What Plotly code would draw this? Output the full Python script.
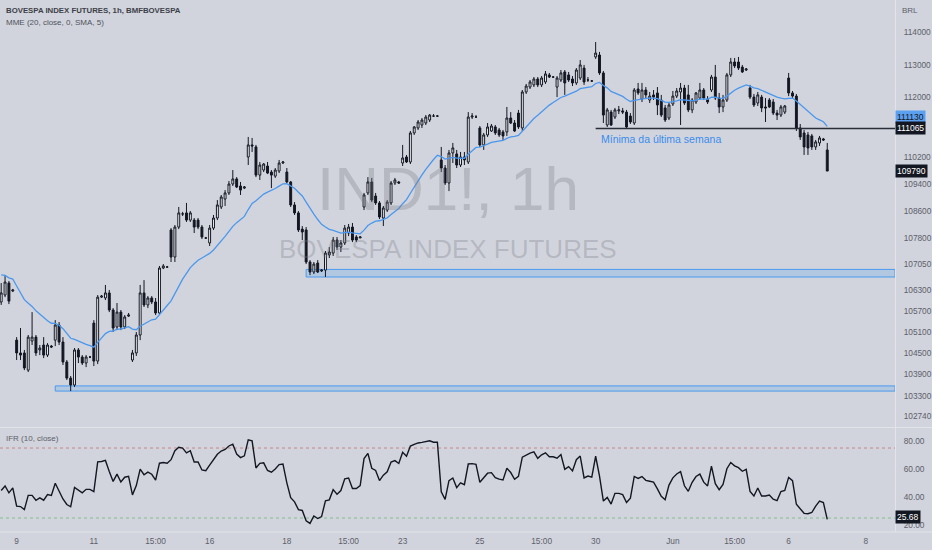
import math
import plotly.graph_objects as go

# ---------------- data ----------------
session_days = ["2022-05-06", "2022-05-09", "2022-05-10", "2022-05-11", "2022-05-12", "2022-05-13",
                "2022-05-16", "2022-05-17", "2022-05-18", "2022-05-19", "2022-05-20",
                "2022-05-23", "2022-05-24", "2022-05-25", "2022-05-26", "2022-05-27",
                "2022-05-30", "2022-05-31", "2022-06-01", "2022-06-02", "2022-06-03",
                "2022-06-06", "2022-06-07", "2022-06-08"]
session_hours = [9, 10, 11, 12, 13, 14, 15, 16, 17, 18]
first_bar = "2022-05-06 15:00"

opens = [
    105960, 106160, 106505, 106275,                                               # May 6
    104870, 104505, 104505, 104020, 104845, 104955, 104590, 104730, 104445, 104700,  # May 9
    104870, 105300, 104815, 104250, 103795, 103600, 104590, 104390, 104220, 104390,  # May 10
    105355, 104275, 106100, 106075, 106220, 105730, 105245, 105670, 105245, 105555,  # May 11
    104305, 104505, 105015, 106220, 105875, 106075, 105960, 105645, 106940, 106970,  # May 12
    108050, 107260, 108135, 108520, 108550, 108340, 108340, 108340, 108135, 107815,  # May 13
    107670, 108105, 108400, 108725, 108960, 109140, 109405, 109555, 109345, 109285,  # May 16
    110210, 110570, 110510, 109670, 109820, 109940, 109760, 109640, 109790, 110030,  # May 17
    109760, 109465, 108785, 108550, 108075, 108050, 107115, 106825, 107085, 106855,  # May 18
    106880, 107320, 107375, 107755, 107550, 107670, 107960, 108135, 107845, 107815,  # May 19
    108725, 109140, 109465, 109050, 108845, 108400, 108635, 108845, 109435, 109465,  # May 20
    110030, 110210, 110060, 110930, 111080, 111170, 111230, 111320, 111440, 111440,  # May 23
    110120, 109880, 109435, 110330, 110300, 109970, 110210, 110060, 111410, 111410,  # May 24
    111080, 110570, 110870, 110990, 111110, 111020, 110960, 110960, 111380, 111230,  # May 25
    111530, 111080, 112170, 112320, 112385, 112565, 112385, 112475, 112690, 112625,  # May 26
    112320, 112535, 112780, 112690, 112565, 112445, 112595, 112900, 112535, 112505,  # May 27
    113240, 113300, 112750, 111170, 111560, 111410, 111595, 111595, 111560, 111440,  # May 30
    111230, 112260, 111955, 112230, 111925, 112080, 112140, 111925, 111685, 111380,  # May 31
    111805, 112045, 112170, 112290, 112080, 111625, 111865, 111985, 112230, 111955,  # Jun 1
    112230, 112625, 111985, 111715, 111925, 112690, 113085, 113085, 112930, 112840,  # Jun 2
    112290, 112015, 111835, 112015, 111715, 111925, 111865, 111530, 111470, 111560,  # Jun 3
    112595, 112140, 112045, 111080, 110930, 110870, 110840, 110510, 110630, 110750,  # Jun 6
    110420,                                                                         # Jun 7
]
highs = [
    106505, 106735, 106565, 106335,
    104955, 105215, 104590, 105015, 105670, 105015, 104730, 104955, 104785, 104730,
    105440, 105385, 104955, 104305, 103855, 104645, 104645, 104445, 104445, 104420,
    105440, 106160, 106160, 106450, 106305, 105785, 105930, 105730, 105585, 105645,
    104590, 105100, 106450, 106590, 106130, 106130, 106075, 107000, 107055, 107000,
    108105, 108195, 108725, 108580, 108845, 108605, 108400, 108400, 108195, 107845,
    108195, 108490, 108930, 109080, 109225, 109495, 109820, 109610, 109465, 109345,
    110810, 110780, 110570, 110060, 110030, 110060, 109820, 109880, 110120, 110090,
    109880, 109495, 108870, 108605, 108165, 108135, 107170, 107115, 107170, 106910,
    107435, 107550, 107845, 107845, 107755, 108195, 108225, 108255, 107900, 107870,
    109140, 109610, 109585, 109140, 108900, 108755, 108930, 109495, 109585, 109495,
    110570, 110270, 110990, 111140, 111320, 111380, 111470, 111500, 111500, 111470,
    110510, 109970, 110420, 110630, 110420, 110360, 110360, 111560, 111530, 111470,
    111140, 110930, 111230, 111200, 111170, 111080, 111020, 111715, 111560, 111320,
    111625, 112230, 112415, 112535, 112625, 112625, 112655, 112810, 112750, 112655,
    112655, 112840, 112840, 112780, 112655, 112900, 113145, 112995, 112625, 112535,
    113700, 113395, 112810, 111685, 111625, 111685, 111745, 111685, 111625, 111530,
    112290, 112445, 112445, 112320, 112170, 112230, 112320, 112080, 111775, 111835,
    112200, 112290, 112445, 112385, 112385, 111985, 112170, 112445, 112290, 112045,
    112690, 112995, 112140, 112080, 112750, 113210, 113210, 113240, 112995, 112900,
    112385, 112110, 112170, 112080, 111985, 111985, 111955, 111625, 111775, 111775,
    112750, 112200, 112110, 111200, 111020, 110960, 110900, 110720, 110840, 110780,
    110630,
]
lows = [
    105875, 106100, 105900, 106245,
    104305, 104305, 104020, 103965, 104730, 104420, 104445, 104360, 104390, 104645,
    104700, 104730, 104165, 103740, 103430, 103545, 104220, 104165, 104105, 104360,
    104135, 104190, 106075, 106015, 105670, 105100, 105155, 105155, 105185, 105530,
    104250, 104420, 104870, 105815, 105785, 105900, 105585, 105585, 106910, 106940,
    107115, 107115, 108075, 108460, 108285, 108285, 107960, 108075, 107785, 107785,
    107580, 108050, 108340, 108665, 108755, 109080, 109345, 109285, 109080, 109255,
    109970, 110360, 109610, 109525, 109760, 109700, 109285, 109585, 109730, 110000,
    109435, 108725, 108490, 107990, 107755, 107055, 106735, 106765, 106795, 106825,
    106680, 107230, 107290, 107465, 107405, 107610, 107870, 107695, 107695, 107815,
    108635, 109080, 108870, 108785, 108370, 108165, 108580, 108785, 109375, 109405,
    109940, 110030, 110000, 110870, 111020, 111080, 111170, 111260, 111410, 111410,
    109760, 109375, 109195, 110030, 109880, 109910, 109970, 110000, 111350, 111380,
    110510, 110420, 110810, 110960, 110870, 110810, 110720, 110840, 111200, 110960,
    111050, 110990, 112110, 112260, 112320, 112320, 112320, 112415, 112595, 112595,
    112015, 112475, 112080, 112475, 112350, 112385, 112535, 112385, 112475, 112475,
    113180, 112690, 111230, 111110, 111140, 111350, 111500, 111500, 111065, 111200,
    111170, 112080, 111865, 111955, 111835, 111925, 111470, 111410, 111260, 111320,
    111745, 111985, 111170, 111775, 111560, 111530, 111805, 111925, 111925, 111805,
    112170, 111925, 111530, 111560, 111865, 112625, 112900, 112840, 112750, 112810,
    111955, 111715, 111745, 111560, 111260, 111685, 111470, 111320, 111410, 111500,
    112045, 111985, 110990, 110720, 110270, 110270, 110420, 110420, 110540, 110690,
    109790,
]
closes = [
    106220, 106535, 105985, 106305,
    104505, 104445, 104080, 104955, 104955, 104505, 104645, 104445, 104730, 104675,
    105300, 104815, 104250, 103795, 103600, 104590, 104390, 104220, 104390, 104390,
    104275, 106100, 106130, 106220, 105730, 105215, 105670, 105245, 105530, 105585,
    104505, 105015, 106220, 105875, 106075, 105960, 105645, 106940, 107000, 106970,
    107260, 108135, 108550, 108520, 108340, 108550, 108135, 108135, 107845, 107815,
    108105, 108400, 108785, 109020, 109140, 109405, 109555, 109315, 109225, 109315,
    110570, 110540, 109670, 109970, 110000, 109730, 109670, 109820, 110030, 110060,
    109465, 108785, 108550, 108050, 107990, 107115, 106825, 107055, 106825, 106880,
    107375, 107405, 107755, 107550, 107670, 108105, 108135, 107755, 107755, 107845,
    109080, 109465, 108930, 108845, 108430, 108695, 108870, 109435, 109525, 109435,
    110180, 110060, 110930, 111110, 111260, 111320, 111410, 111470, 111440, 111440,
    109880, 109435, 110330, 110480, 109970, 110210, 110120, 111410, 111440, 111410,
    110570, 110870, 111110, 111140, 110930, 110870, 110840, 111380, 111230, 110990,
    111110, 112170, 112350, 112475, 112565, 112385, 112595, 112720, 112625, 112625,
    112595, 112750, 112445, 112535, 112445, 112840, 112995, 112475, 112535, 112505,
    113360, 112750, 111470, 111625, 111170, 111625, 111625, 111560, 111110, 111260,
    112230, 112140, 112230, 112080, 112045, 112015, 111775, 111470, 111320, 111775,
    112045, 112200, 112290, 111835, 111625, 111925, 112140, 112230, 111985, 111865,
    112625, 111985, 111715, 111925, 112690, 113085, 112965, 112900, 112780, 112870,
    112015, 111775, 112080, 111685, 111685, 111715, 111530, 111470, 111715, 111745,
    112140, 112045, 111080, 110810, 110510, 110480, 110510, 110660, 110780, 110720,
    109790,
]

price_ticks = [102740, 103300, 103900, 104500, 105100, 105700, 106300, 107050,
               107800, 108600, 109400, 110200, 112000, 113000, 114000]
rsi_ticks = [20, 40, 60, 80]
rsi_upper, rsi_lower = 75, 25

time_tick_slots = ["2022-05-09 09:00", "2022-05-11 09:00", "2022-05-12 15:00", "2022-05-16 09:00",
                   "2022-05-18 09:00", "2022-05-19 15:00", "2022-05-23 09:00", "2022-05-25 09:00",
                   "2022-05-26 15:00", "2022-05-30 09:00", "2022-06-01 09:00", "2022-06-02 15:00",
                   "2022-06-06 09:00", "2022-06-08 09:00"]
time_tick_text = ["9", "11", "15:00", "16", "18", "15:00", "23", "25", "15:00", "30", "Jun",
                  "15:00", "6", "8"]

# drawings
zones = [  # (start slot, low, high)
    ("2022-05-18 14:00", 106680, 106900),
    ("2022-05-10 09:00", 103430, 103575),
]
week_low_start = "2022-05-30 09:00"
week_low_value = 111065
week_low_text = "Mínima da última semana"
ema_label_value = 111130
rsi_last_label = 25.68

ema_length = 20
ema_seed = 106800
rsi_length = 10
rsi_seed_gain, rsi_seed_loss = 250.0, 310.0

# ---------------- derived ----------------
slots = [f"{d} {h:02d}:00" for d in session_days for h in session_hours]
slots = slots[slots.index(first_bar):]
n = len(closes)
xs = list(range(n))
slot_idx = {s: i for i, s in enumerate(slots)}

alpha = 2.0 / (ema_length + 1)
ema = []
prev = ema_seed
for c in closes:
    prev = prev + alpha * (c - prev)
    ema.append(prev)

rsi = []
ag, al = rsi_seed_gain, rsi_seed_loss
prev_c = None
for c in closes:
    if prev_c is not None:
        ch = c - prev_c
        ag = (ag * (rsi_length - 1) + max(ch, 0)) / rsi_length
        al = (al * (rsi_length - 1) + max(-ch, 0)) / rsi_length
    rsi.append(100 - 100 / (1 + ag / al) if al > 0 else 100)
    prev_c = c

# ---------------- figure ----------------
BG = "#d1d4dc"
FONT = "Liberation Sans, Arial, sans-serif"
TXT = "#5d606b"

fig = go.Figure()
fig.add_trace(go.Candlestick(
    x=xs, open=opens, high=highs, low=lows, close=closes,
    increasing=dict(line=dict(color="#131722", width=1), fillcolor="#ffffff"),
    decreasing=dict(line=dict(color="#131722", width=1), fillcolor="#131722"),
    whiskerwidth=0, hoverinfo="skip", showlegend=False, xaxis="x", yaxis="y"))
fig.add_trace(go.Scatter(x=xs, y=ema, mode="lines", line=dict(color="#4b97ee", width=1.3),
                         hoverinfo="skip", showlegend=False, xaxis="x", yaxis="y"))
fig.add_trace(go.Scatter(x=xs, y=rsi, mode="lines", line=dict(color="#131722", width=1.4),
                         hoverinfo="skip", showlegend=False, xaxis="x2", yaxis="y2"))

xr = [-0.31, 231.55]
yr = [math.log10(102427), math.log10(115003)]
tick_x = [slot_idx[s] for s in time_tick_slots]

fig.update_layout(
    width=932, height=550, margin=dict(l=0, r=37, t=0, b=0),
    paper_bgcolor=BG, plot_bgcolor=BG, showlegend=False,
    font=dict(family=FONT, size=9, color=TXT),
    xaxis=dict(domain=[0, 1], range=xr, anchor="y", showticklabels=False, showgrid=False,
               zeroline=False, rangeslider=dict(visible=False), fixedrange=True),
    yaxis=dict(domain=[0.2236, 1], type="log", range=yr, side="right", tickvals=price_ticks,
               ticktext=[str(v) for v in price_ticks], showgrid=False, zeroline=False,
               ticks="", ticklabelstandoff=6, tickfont=dict(size=8.3, color=TXT),
               showline=True, linecolor="#e2e4ea", linewidth=1),
    xaxis2=dict(domain=[0, 1], range=xr, anchor="y2", tickvals=tick_x, ticktext=time_tick_text,
                showgrid=False, zeroline=False, ticks="", ticklabelstandoff=3,
                tickfont=dict(size=8.3, color=TXT)),
    yaxis2=dict(domain=[0.0327, 0.2218], range=[15, 89.3], side="right", tickvals=rsi_ticks,
                ticktext=[f"{v:.2f}" for v in rsi_ticks], showgrid=False, zeroline=False,
                ticks="", ticklabelstandoff=6, tickfont=dict(size=8.3, color=TXT),
                showline=True, linecolor="#e2e4ea", linewidth=1),
)

shapes = []
for start, lo, hi in zones:
    shapes.append(dict(type="rect", xref="x", yref="y", x0=slot_idx[start], x1=xr[1],
                       y0=lo, y1=hi, line=dict(color="#4a9af0", width=1),
                       fillcolor="rgba(41,150,243,0.18)", layer="below"))
shapes.append(dict(type="line", xref="x", yref="y", x0=slot_idx[week_low_start], x1=xr[1],
                   y0=week_low_value, y1=week_low_value, line=dict(color="#2a2e39", width=1.3)))
for lvl, col in ((rsi_upper, "#c98585"), (rsi_lower, "#82bf8c")):
    shapes.append(dict(type="line", xref="paper", yref="y2", x0=0, x1=1, y0=lvl, y1=lvl,
                       line=dict(color=col, width=1, dash="3px,3px"), layer="below"))
for yp in (0.2227, 0.0327):
    shapes.append(dict(type="line", xref="paper", yref="paper", x0=0, x1=1.05, y0=yp, y1=yp,
                       line=dict(color="#e2e4ea", width=1)))
fig.update_layout(shapes=shapes)

ann = []
# watermark
ann.append(dict(text="IND1!, 1h", xref="paper", yref="paper", x=0.5, y=0.657, showarrow=False,
                font=dict(size=62, color="rgba(120,123,134,0.32)", family=FONT)))
ann.append(dict(text="BOVESPA INDEX FUTURES", xref="paper", yref="paper", x=0.5, y=0.548,
                showarrow=False, font=dict(size=26, color="rgba(120,123,134,0.32)", family=FONT)))
# headers
ann.append(dict(text="<b>BOVESPA INDEX FUTURES, 1h, BMFBOVESPA</b>", xref="paper", yref="paper",
                x=0, y=1, xanchor="left", yanchor="top", xshift=4, yshift=-4, showarrow=False,
                font=dict(size=7.8, color="#3d4049")))
ann.append(dict(text="MME (20, close, 0, SMA, 5)", xref="paper", yref="paper",
                x=0, y=1, xanchor="left", yanchor="top", xshift=4, yshift=-16, showarrow=False,
                font=dict(size=8, color="#50535c")))
ann.append(dict(text="IFR (10, close)", xref="paper", yref="paper",
                x=0, y=0.2218, xanchor="left", yanchor="top", xshift=4, yshift=-4, showarrow=False,
                font=dict(size=8, color="#5d606b")))
ann.append(dict(text="BRL", xref="paper", yref="paper", x=1, y=1, xanchor="left", yanchor="top",
                xshift=5, yshift=-4, showarrow=False, font=dict(size=8, color=TXT)))
# line text
ann.append(dict(text=week_low_text, xref="x", yref="y", x=slot_idx[week_low_start],
                y=math.log10(week_low_value), xanchor="left", yanchor="middle", xshift=3,
                yshift=-11, showarrow=False, font=dict(size=10.5, color="#3a8cec")))
# price labels on axis
for val, bg, fg, ysh in ((ema_label_value, "#5b9ff0", "#131722", 9),
                         (week_low_value, "#131722", "#ffffff", 0),
                         (closes[-1], "#131722", "#ffffff", 0)):
    ann.append(dict(text=str(val), xref="paper", yref="y", x=1, y=math.log10(val),
                    xanchor="left", yanchor="middle", yshift=ysh, showarrow=False,
                    bgcolor=bg, borderpad=1, font=dict(size=8.5, color=fg)))
ann.append(dict(text=f"{rsi_last_label:.2f}", xref="paper", yref="y2", x=1, y=rsi_last_label,
                xanchor="left", yanchor="middle", showarrow=False, bgcolor="#131722", borderpad=1,
                font=dict(size=8.5, color="#ffffff")))
fig.update_layout(annotations=ann)

fig.write_html("out.html")
